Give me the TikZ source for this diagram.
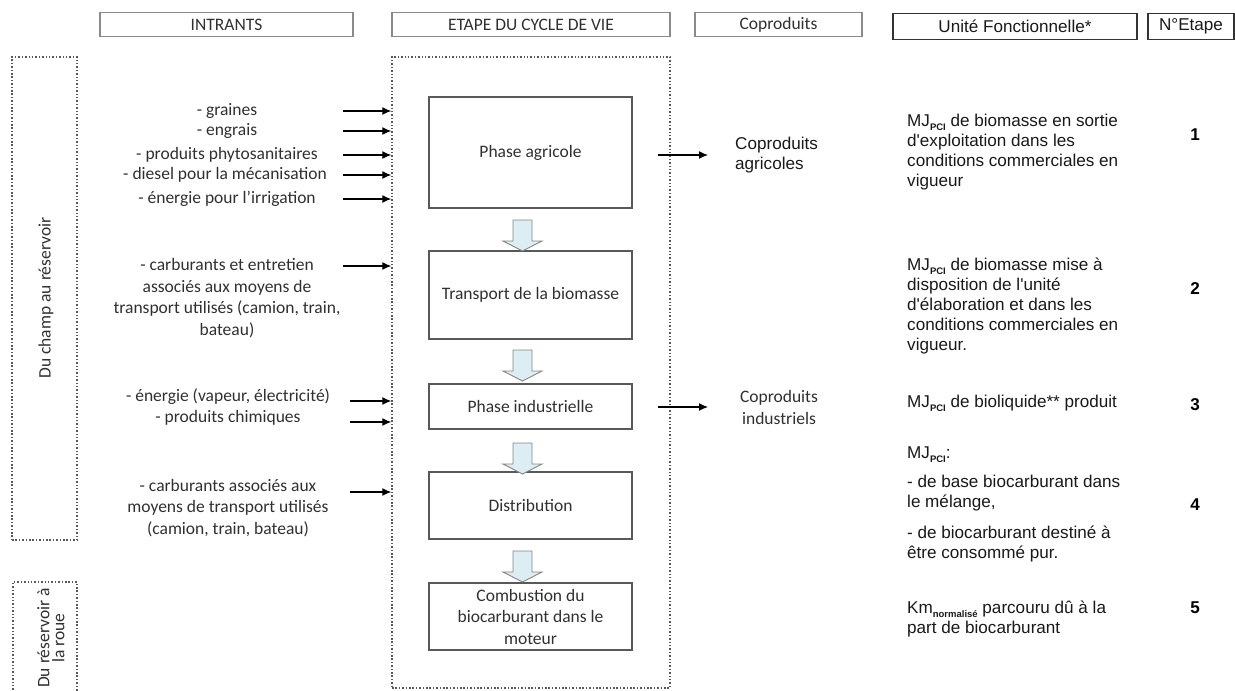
\documentclass[tikz,border=0pt]{standalone}
\usepackage{fontspec}
\setmainfont{Carlito}
\newfontfamily\arialfont{Liberation Sans}
\usetikzlibrary{arrows.meta}

\definecolor{txtgray}{HTML}{303030}
\definecolor{framegray}{HTML}{8A8A8A}
\definecolor{flowfill}{HTML}{DCEEF3}
\definecolor{flowline}{HTML}{858585}

% small lowered index used in the functional units (MJ_PCI, Km_normalise)
\newcommand{\lowidx}[1]{\raisebox{-4pt}{\fontsize{9.5}{9.5}\selectfont\bfseries #1}}

\tikzset{
  cal/.style={font=\fontsize{17.5}{21.5}\selectfont, text=txtgray, inner sep=0pt},
  ari/.style={font=\arialfont\fontsize{17.1}{20}\selectfont, text=black!90, inner sep=0pt},
  stepnum/.style={font=\arialfont\bfseries\fontsize{17.1}{20}\selectfont, inner sep=0pt},
  headbox/.style={draw=framegray, line width=1.2pt},
  headboxdark/.style={draw=black!80, line width=1.2pt},
  dotframe/.style={draw=black!65, line width=1.5pt, dash pattern=on 1.5pt off 1.9pt},
  phasebox/.style={cal, draw=black!65, line width=1.1pt, align=center},
  inarrow/.style={-{Latex[length=9pt,width=8pt]}, line width=1.2pt},
  flowarrow/.style={fill=flowfill, draw=flowline, line width=0.9pt},
  pics/flowdown/.style={code={
    \draw[flowarrow] (-9.5,0) -- (9.5,0) -- (9.5,21) -- (19.5,21) -- (0,31)
      -- (-19.5,21) -- (-9.5,21) -- cycle;}},
}

\begin{document}
\begin{tikzpicture}[x=1pt, y=-1pt]
\useasboundingbox (0,0) rectangle (1235,691);

% ---- column headers
\node[headbox, cal, minimum width=253pt, minimum height=24pt] (hIn) at (226.5,24.5) {INTRANTS};
\node[headbox, cal, minimum width=278pt, minimum height=24pt] (hStage) at (531,24.5) {ETAPE DU CYCLE DE VIE};
\node[headbox, cal, minimum width=167pt, minimum height=24pt] (hCo) at (778.5,24.5) {Coproduits};
\node[headboxdark, ari, minimum width=244pt, minimum height=26pt] (hUF) at (1015,26.5) {Unité Fonctionnelle*};
\node[headboxdark, ari, minimum width=86pt, minimum height=26pt] (hNum) at (1191,26.5) {N°Etape};

% ---- scope frames on the left
\node[dotframe, minimum width=65pt, minimum height=483pt] (champbox) at (44.5,298.5) {};
\node[cal, rotate=90] (champ) at (46,298) {Du champ au réservoir};
\draw[dotframe] (13,700) |- (77,582) -- (77,700);
\node[cal, rotate=90, align=center, font=\fontsize{17.5}{15}\selectfont] (roue) at (51,638) {Du réservoir à\\la roue};

% ---- life-cycle frame and stages
\node[dotframe, minimum width=278pt, minimum height=631pt] (cycle) at (531,372.5) {};

\node[phasebox, minimum width=203pt, minimum height=111pt] (agri) at (530.5,152.5) {Phase agricole};
\node[phasebox, minimum width=203pt, minimum height=88pt] (trans) at (530.5,295) {Transport de la biomasse};
\node[phasebox, minimum width=203pt, minimum height=45pt] (indus) at (530.5,406.5) {Phase industrielle};
\node[phasebox, minimum width=203pt, minimum height=67pt] (distr) at (530.5,505.5) {Distribution};
\node[phasebox, minimum width=203pt, minimum height=67pt] (combu) at (530.5,616.5) {Combustion du\\biocarburant dans le\\moteur};

% block arrows between stages
\pic at (522.5,220) {flowdown};
\pic at (522.5,350) {flowdown};
\pic at (522.5,443) {flowdown};
\pic at (522.5,551) {flowdown};

% ---- inputs
\node[cal] (i1) at (227,111) {- graines};
\node[cal] (i2) at (227,131) {- engrais};
\node[cal] (i3) at (227,155) {- produits phytosanitaires};
\node[cal] (i4) at (225,175) {- diesel pour la mécanisation};
\node[cal] (i5) at (227,199) {- énergie pour l’irrigation};
\node[cal, align=center] (i6) at (227,298) {- carburants et entretien\\associés aux moyens de\\transport utilisés (camion, train,\\bateau)};
\node[cal] (i7) at (228,397) {- énergie (vapeur, électricité)};
\node[cal] (i8) at (228,418) {- produits chimiques};
\node[cal, align=center] (i9) at (228,508) {- carburants associés aux\\moyens de transport utilisés\\(camion, train, bateau)};

\coordinate (a1) at (343,111);
\coordinate (a2) at (343,131);
\coordinate (a3) at (343,155);
\coordinate (a4) at (343,175);
\coordinate (a5) at (343,199);
\coordinate (a6) at (343,266);
\coordinate (a7) at (350,401);
\coordinate (a8) at (350,422);
\coordinate (a9) at (350,492);
\foreach \a in {a1,a2,a3,a4,a5,a6,a7,a8,a9}
  \draw[inarrow] (\a) -- (\a -| cycle.west);

% ---- co-products
\coordinate (o1) at (658,155);
\coordinate (o2) at (658,407);
\coordinate (t1) at (708,155);
\coordinate (t2) at (708,407);
\draw[inarrow] (o1) -- (t1);
\draw[inarrow] (o2) -- (t2);
\node[ari, align=left, anchor=west] (coagri) at (735,155) {Coproduits\\agricoles};
\node[cal, align=center] (coind) at (779,407.5) {Coproduits\\industriels};

% ---- functional units
\node[ari, align=left, anchor=north west] (uf1) at (907,114) {MJ\lowidx{PCI} de biomasse en sortie\\d'exploitation dans les\\conditions commerciales en\\vigueur};
\node[ari, align=left, anchor=north west] (uf2) at (907,258) {MJ\lowidx{PCI} de biomasse mise à\\disposition de l'unité\\d'élaboration et dans les\\conditions commerciales en\\vigueur.};
\node[ari, anchor=west] (uf3) at (907,403) {MJ\lowidx{PCI} de bioliquide** produit};
\node[ari, align=left, anchor=north west] (uf4) at (907,447) {MJ\lowidx{PCI}:\\[9pt]- de base biocarburant dans\\le mélange,\\[11pt]- de biocarburant destiné à\\être consommé pur.};
\node[ari, align=left, anchor=north west] (uf5) at (907,601) {Km\lowidx{normalisé} parcouru dû à la\\part de biocarburant};

% ---- step numbers
\node[stepnum] (n1) at (1195,135) {1};
\node[stepnum] (n2) at (1195,289) {2};
\node[stepnum] (n3) at (1195,405) {3};
\node[stepnum] (n4) at (1195,505) {4};
\node[stepnum] (n5) at (1195,608) {5};
\end{tikzpicture}
\end{document}
